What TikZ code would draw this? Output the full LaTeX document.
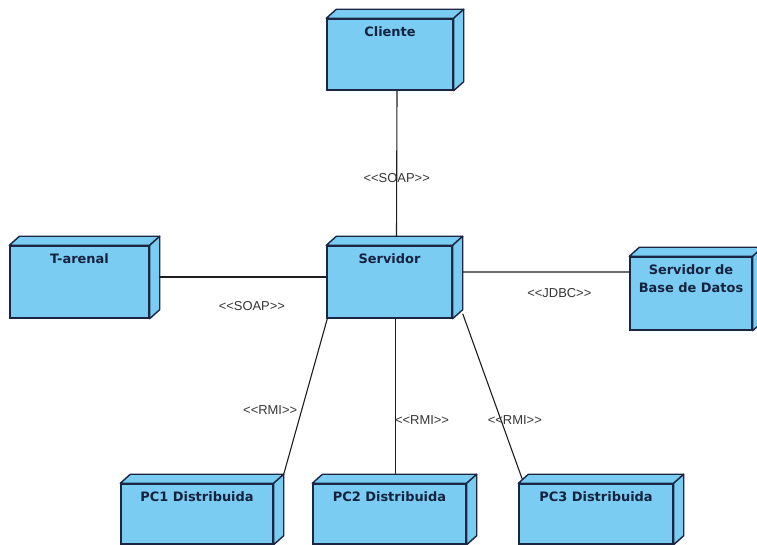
\documentclass[tikz,border=0pt]{standalone}
\usepackage{fontspec}
\newfontfamily\cajafont{DejaVu Sans}
\newfontfamily\etiqfont{Liberation Sans}
\usepackage{tikz}
\usetikzlibrary{positioning, calc}

\definecolor{nodoazul}{HTML}{7ACCF2}
\definecolor{bordeazul}{HTML}{1B2642}
\definecolor{textoazul}{HTML}{15223F}
\definecolor{lineagris}{HTML}{1E1E1E}

% estereotipo <<...>> (kern evita la ligadura a comillas)
\newcommand{\estereo}[1]{\textless\kern0pt\textless#1>\kern0pt>}

\begin{document}
\begin{tikzpicture}[x=1bp, y=1bp,
    nodo/.style={rectangle, draw=bordeazul, fill=nodoazul, line width=1.4bp, inner sep=0pt},
    cara/.style={draw=bordeazul, fill=nodoazul, line width=1.4bp, line join=round},
    titulo/.style={anchor=north, yshift=-8.5bp, inner sep=0pt, align=center, text=textoazul,
                   font=\cajafont\bfseries\fontsize{13}{18}\selectfont},
    conector/.style={draw=lineagris, line width=1.1bp},
    etiqueta/.style={inner sep=1bp, text=lineagris!90, font=\etiqfont\fontsize{13}{15}\selectfont}]

    \useasboundingbox (0,0) rectangle (757,545);
    \clip (0,0) rectangle (757,545);

    % Nodos (cara frontal)
    \node[nodo, minimum width=126bp, minimum height=71bp, label={[titulo]north:Cliente}] (cliente) at (390,490.5) {};
    \node[nodo, minimum width=125bp, minimum height=72bp, label={[titulo]north:Servidor}] (servidor) at (389.5,263) {};
    \node[nodo, minimum width=139bp, minimum height=72bp, label={[titulo]north:T-arenal}] (tarenal) at (79.5,263) {};
    \node[nodo, minimum width=122bp, minimum height=73bp, label={[titulo]north:Servidor de\\Base de Datos}] (bd) at (691,251.5) {};
    \node[nodo, minimum width=152bp, minimum height=60bp, label={[titulo]north:PC1 Distribuida}] (pc1) at (197,31) {};
    \node[nodo, minimum width=153bp, minimum height=60bp, label={[titulo]north:PC2 Distribuida}] (pc2) at (389.5,31) {};
    \node[nodo, minimum width=154bp, minimum height=60bp, label={[titulo]north:PC3 Distribuida}] (pc3) at (596,31) {};

    % Caras superior y lateral
    \foreach \n in {cliente,servidor,tarenal,bd,pc1,pc2,pc3}{
        \filldraw[cara] (\n.north west) -- ++(10,9) -- ($(\n.north east)+(10,9)$) -- (\n.north east) -- cycle;
        \filldraw[cara] (\n.north east) -- ++(10,9) -- ($(\n.south east)+(10,9)$) -- (\n.south east) -- cycle;
    }

    % Conexiones
    \draw[conector] ([xshift=7bp]cliente.south) -- ([xshift=7bp, yshift=9bp]servidor.north)
        node[etiqueta, pos=0.6] {\estereo{SOAP}};
    \draw[conector] ([xshift=9bp, yshift=5bp]tarenal.east) -- ([yshift=5bp]servidor.west)
        node[etiqueta, pos=0.556, below=23bp] {\estereo{SOAP}};
    \draw[conector] ([shift={(10bp,10bp)}]servidor.east) -- ([yshift=21.5bp]bd.west)
        node[etiqueta, pos=0.58, below=15bp] {\estereo{JDBC}};
    \draw[conector] ([xshift=1bp]servidor.south west) -- ([shift={(10bp,9bp)}]pc1.north east)
        node[etiqueta, pos=0.586, left=3bp] {\estereo{RMI}};
    \draw[conector] ([xshift=6bp]servidor.south) -- ([shift={(6bp,9bp)}]pc2.north)
        node[etiqueta, pos=0.65, anchor=west, xshift=-2bp] {\estereo{RMI}};
    \draw[conector] ([shift={(10bp,5bp)}]servidor.south east) -- ([shift={(4bp,4bp)}]pc3.north west)
        node[etiqueta, pos=0.64, xshift=14bp] {\estereo{RMI}};

\end{tikzpicture}
\end{document}
